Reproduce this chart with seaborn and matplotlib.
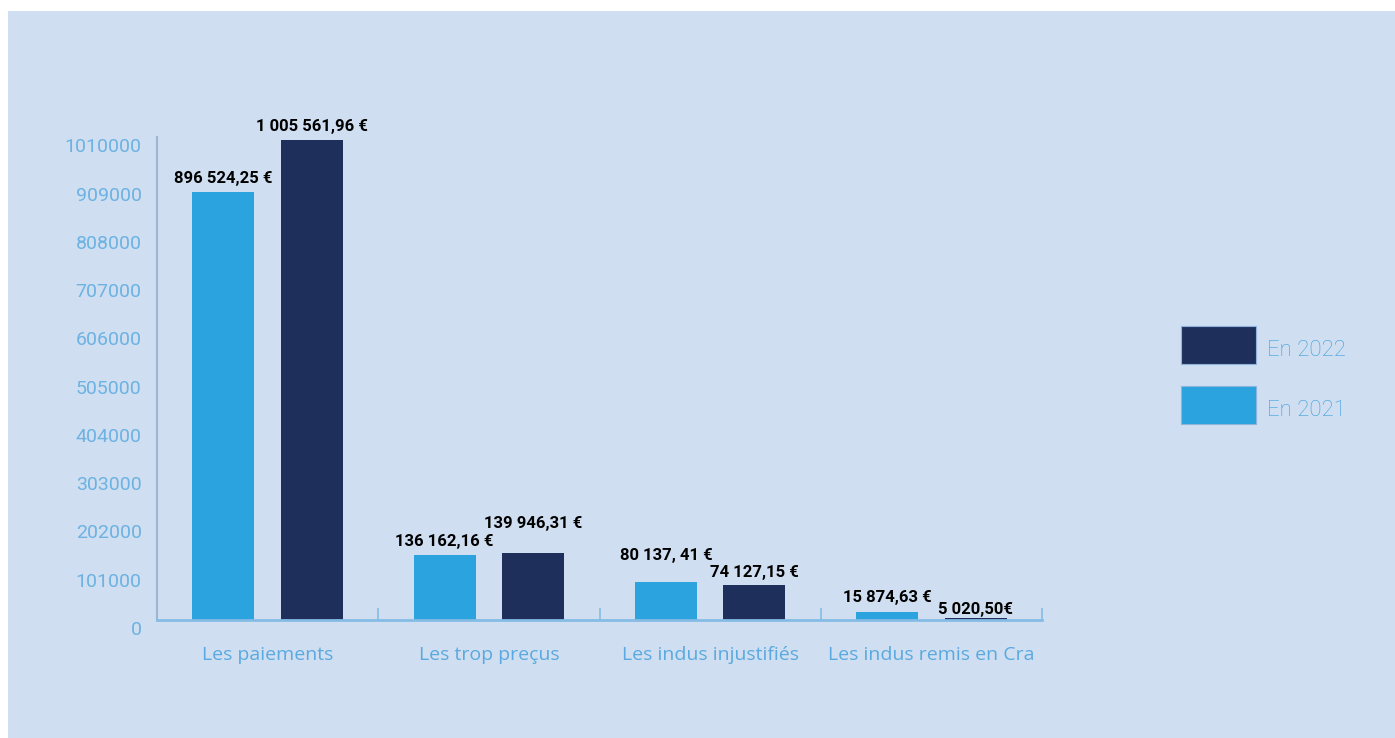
import matplotlib
matplotlib.use("Agg")
import matplotlib.pyplot as plt
import seaborn as sns
import pandas as pd
from matplotlib.patches import Rectangle
from matplotlib.transforms import ScaledTranslation

# ---- data ----
categories = ["Les paiements", "Les trop preçus", "Les indus injustifiés", "Les indus remis en Cra"]
series = ["En 2021", "En 2022"]
values_2021 = [896524.25, 136162.16, 80137.41, 15874.63]
values_2022 = [1005561.96, 139946.31, 74127.15, 5020.50]
labels_2021 = ["896 524,25 €", "136 162,16 €", "80 137, 41 €", "15 874,63 €"]
labels_2022 = ["1 005 561,96 €", "139 946,31 €", "74 127,15 €", "5 020,50€"]
y_ticks = [0, 101000, 202000, 303000, 404000, 505000, 606000, 707000, 808000, 909000, 1010000]

# ---- style ----
W, H, DPI = 1395, 738, 100
bg = "#cfdef0"
c_light = "#2aa3de"
c_dark = "#1f2f5b"
txt_blue = "#5aa9e0"

df = pd.DataFrame({
    "cat": categories * 2,
    "serie": [series[0]] * 4 + [series[1]] * 4,
    "val": values_2021 + values_2022,
})

fig = plt.figure(figsize=(W / DPI, H / DPI), dpi=DPI, facecolor="white")
fig.patches.append(Rectangle((8 / W, 0), 1, 1 - 11 / H, transform=fig.transFigure,
                             facecolor=bg, edgecolor="none", zorder=-10))
ax = fig.add_axes([157 / W, (H - 620) / H, (1042 - 157) / W, (620 - 137.4) / H])
ax.set_facecolor("none")

sns.barplot(data=df, x="cat", y="val", hue="serie", hue_order=series, order=categories,
            palette=[c_light, c_dark], saturation=1, width=0.8, gap=0.3, errorbar=None,
            linewidth=0, ax=ax, legend=True)

ax.set_xlim(-0.5, 3.5)
ax.set_ylim(0, 1010000)
ax.set_xlabel("")
ax.set_ylabel("")

# spines
for s in ["top", "right"]:
    ax.spines[s].set_visible(False)
ax.spines["left"].set_color("#9bb7d3")
ax.spines["left"].set_linewidth(1.5)
ax.spines["bottom"].set_color("#85bce6")
ax.spines["bottom"].set_linewidth(2)

# y ticks
ax.set_yticks(y_ticks)
ax.set_yticklabels([str(v) for v in y_ticks])
ax.tick_params(axis="y", length=0, pad=11, labelsize=14, labelcolor="#6cb2e2")
for lab in ax.get_yticklabels():
    lab.set_fontfamily("Roboto")
    lab.set_transform(lab.get_transform() + ScaledTranslation(0, -8 / DPI, fig.dpi_scale_trans))

# x ticks
ax.set_xticks(range(len(categories)))
ax.set_xticklabels(categories)
ax.tick_params(axis="x", length=0, pad=18.5, labelsize=14, labelcolor=txt_blue)
for lab in ax.get_xticklabels():
    lab.set_fontfamily("Open Sans")
ax.set_xticks([0.5, 1.5, 2.5, 3.5], minor=True)
ax.tick_params(axis="x", which="minor", direction="in", length=9, width=1.2, color="#85bce6")

# value labels
offs_2021 = [13, 13, 26, 15]
offs_2022 = [13, 30, 12, 8.5]
for cont, labs, offs in [(ax.containers[0], labels_2021, offs_2021),
                         (ax.containers[1], labels_2022, offs_2022)]:
    for bar, t, o in zip(cont, labs, offs):
        ax.annotate(t, xy=(bar.get_x() + bar.get_width() / 2, bar.get_height()),
                    xytext=(0, o * 0.72), textcoords="offset points",
                    ha="center", va="center", fontsize=12, fontweight="bold",
                    family="Roboto", color="black")

# legend
handles, labels = ax.get_legend_handles_labels()
ax.get_legend().remove()
leg = fig.legend(handles[::-1], labels[::-1], loc="upper left",
                 bbox_to_anchor=(1181 / W, 1 - 326 / H), frameon=False,
                 borderpad=0, borderaxespad=0,
                 handlelength=3.38, handleheight=2.25, labelspacing=1.0,
                 handletextpad=0.5, prop={"family": "Roboto", "weight": "light", "size": 16})
for t in leg.get_texts():
    t.set_color("#3d9fdc")
    t.set_transform(t.get_transform() + ScaledTranslation(0, -4 / DPI, fig.dpi_scale_trans))
for p in leg.get_patches():
    p.set_edgecolor("#8fb4dc")
    p.set_linewidth(0.8)

fig.savefig("out.png", dpi=DPI, facecolor="white")
